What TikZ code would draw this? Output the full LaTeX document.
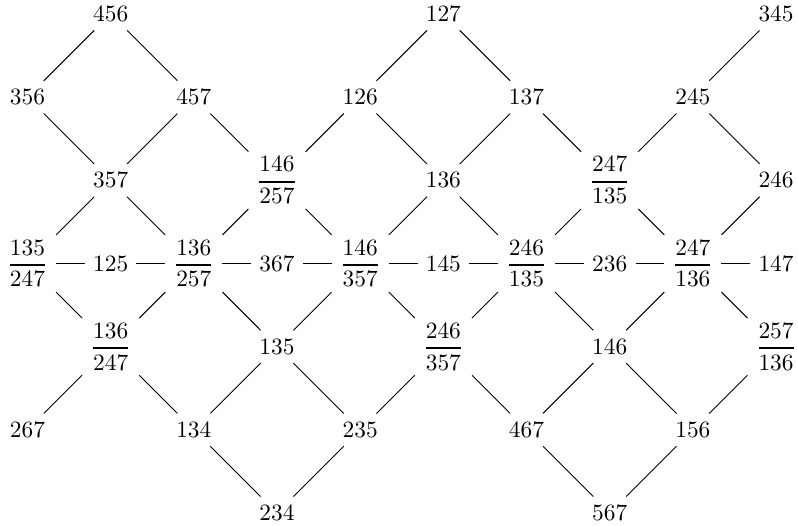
\documentclass[tikz,border=0pt]{standalone}
\usepackage{amsmath}
\newcommand{\lfr}[2]{$\genfrac{}{}{0.8pt}{0}{#1}{#2}$}
\begin{document}
\begin{tikzpicture}[x=1.25cm,y=-1.25cm]
            \useasboundingbox (-0.3305,-0.168) rectangle (9.264,6.150);
            % row 0
            \node (n456) at (1,0) {456};
            \node (n127) at (5,0) {127};
            \node (n345) at (9,0) {345};
            % row 1
            \node (n356) at (0,1) {356};
            \node (n457) at (2,1) {457};
            \node (n126) at (4,1) {126};
            \node (n137) at (6,1) {137};
            \node (n245) at (8,1) {245};
            % row 2
            \node (n357) at (1,2) {357};
            \node (n146-257) at (3,2) {\lfr{146}{257}};
            \node (n136) at (5,2) {136};
            \node (n247-135) at (7,2) {\lfr{247}{135}};
            \node (n246) at (9,2) {246};
            % row 3
            \node (n135-247) at (0,3) {\lfr{135}{247}};
            \node (n125) at (1,3) {125};
            \node (n136-257) at (2,3) {\lfr{136}{257}};
            \node (n367) at (3,3) {367};
            \node (n146-357) at (4,3) {\lfr{146}{357}};
            \node (n145) at (5,3) {145};
            \node (n246-135) at (6,3) {\lfr{246}{135}};
            \node (n236) at (7,3) {236};
            \node (n247-136) at (8,3) {\lfr{247}{136}};
            \node (n147) at (9,3) {147};
            % row 4
            \node (n136-247) at (1,4) {\lfr{136}{247}};
            \node (n135) at (3,4) {135};
            \node (n246-357) at (5,4) {\lfr{246}{357}};
            \node (n146) at (7,4) {146};
            \node (n257-136) at (9,4) {\lfr{257}{136}};
            % row 5
            \node (n267) at (0,5) {267};
            \node (n134) at (2,5) {134};
            \node (n235) at (4,5) {235};
            \node (n467) at (6,5) {467};
            \node (n156) at (8,5) {156};
            % row 6
            \node (n234) at (3,6) {234};
            \node (n567) at (7,6) {567};
            % edges
            \foreach \a/\b in {n456/n356,n456/n457,n356/n357,n457/n357,n457/n146-257,
                n127/n126,n127/n137,n126/n146-257,n126/n136,n137/n136,n137/n247-135,
                n345/n245,n245/n247-135,n245/n246,
                n357/n135-247,n357/n136-257,n146-257/n136-257,n146-257/n146-357,
                n136/n146-357,n136/n246-135,n247-135/n246-135,n247-135/n247-136,n246/n247-136,
                n135-247/n125,n125/n136-257,n136-257/n367,n367/n146-357,n146-357/n145,
                n145/n246-135,n246-135/n236,n236/n247-136,n247-136/n147,
                n135-247/n136-247,n136-257/n136-247,n136-257/n135,n146-357/n135,
                n146-357/n246-357,n246-135/n246-357,n246-135/n146,n247-136/n146,n247-136/n257-136,
                n136-247/n267,n136-247/n134,n135/n134,n135/n235,n246-357/n235,n246-357/n467,
                n146/n467,n146/n156,n257-136/n156,
                n134/n234,n235/n234,n467/n567,n156/n567}
                \draw (\a)--(\b);
        \end{tikzpicture}
\end{document}
